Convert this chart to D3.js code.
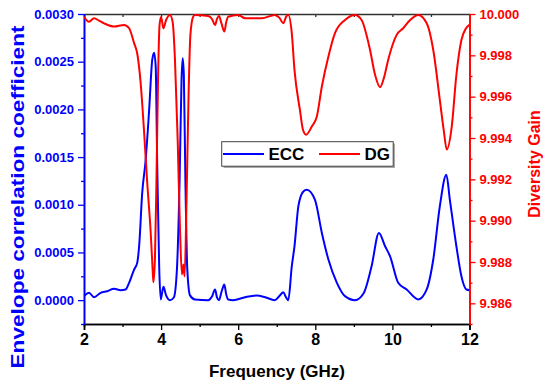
<!DOCTYPE html>
<html>
<head>
<meta charset="utf-8">
<style>
  html, body { margin: 0; padding: 0; background: #fff; }
  text { font-family: "Liberation Sans", Arial, sans-serif; font-weight: bold; }
</style>
</head>
<body>
<svg width="543" height="388"></svg>
<script src="https://cdn.jsdelivr.net/npm/d3@7/dist/d3.min.js"></script>
<script>
// ECC curve
const eccFreq = [2.00, 2.13, 2.26, 2.43, 2.60, 2.78, 2.95, 3.08, 3.17, 3.30, 3.38, 3.43, 3.51, 3.60, 3.69, 3.77, 3.82, 3.86, 3.90, 3.95,
  3.99, 4.06, 4.13, 4.23, 4.33, 4.41, 4.48, 4.53, 4.56, 4.59, 4.63, 4.68, 4.75, 4.88, 5.22, 5.32, 5.40, 5.45, 5.50, 5.57,
  5.64, 5.69, 5.74, 5.87, 6.18, 6.48, 6.70, 6.95, 7.08, 7.17, 7.23, 7.30, 7.39, 7.46, 7.56, 7.69, 7.78, 7.99, 8.17, 8.34,
  8.56, 8.77, 9.03, 9.25, 9.46, 9.65, 9.81, 9.94, 10.15, 10.37, 10.67, 10.89, 11.06, 11.23, 11.40, 11.49, 11.66, 11.79, 11.92, 12.00]
const eccVal = [0.000042, 0.000077, 0.000031, 0.000077, 0.000094, 0.000119, 0.000105, 0.000112, 0.000182, 0.000321, 0.000391, 0.000565, 0.001124, 0.001472, 0.001995, 0.002519, 0.002595, 0.002449, 0.001402, 0.000356,
  0.000007, 0.000140, 0.000050, 0.000000, 0.000028, 0.000320, 0.001260, 0.002310, 0.002536, 0.002360, 0.001260, 0.000320, 0.000050, 0.000007, 0.000000, 0.000039, 0.000112, 0.000028, 0.000000, 0.000091,
  0.000164, 0.000060, 0.000007, 0.000000, 0.000031, 0.000049, 0.000031, 0.000000, 0.000049, 0.000084, 0.000039, 0.000000, 0.000356, 0.000565, 0.000984, 0.001140, 0.001158, 0.001054, 0.000705, 0.000426,
  0.000182, 0.000042, 0.000000, 0.000070, 0.000356, 0.000705, 0.000565, 0.000460, 0.000182, 0.000112, 0.000007, 0.000112, 0.000426, 0.000984, 0.001315, 0.001054, 0.000565, 0.000251, 0.000112, 0.000105]

// Diversity gain curve
const dgFreq = [2.00, 2.13, 2.26, 2.39, 2.52, 2.78, 3.04, 3.17, 3.30, 3.38, 3.47, 3.56, 3.64, 3.73, 3.78, 3.80, 3.84, 3.88, 3.92, 3.96,
  4.00, 4.06, 4.13, 4.23, 4.30, 4.36, 4.43, 4.49, 4.54, 4.58, 4.61, 4.66, 4.71, 4.76, 4.83, 4.88, 5.22, 5.32, 5.40, 5.45,
  5.50, 5.57, 5.64, 5.69, 5.74, 6.00, 6.18, 6.61, 6.95, 7.07, 7.17, 7.24, 7.30, 7.39, 7.46, 7.60, 7.68, 7.76, 7.91, 8.04,
  8.17, 8.34, 8.51, 8.77, 9.03, 9.20, 9.42, 9.55, 9.68, 9.78, 9.89, 10.11, 10.28, 10.46, 10.67, 10.89, 11.06, 11.23, 11.33, 11.41,
  11.54, 11.66, 11.79, 11.91, 12.00]
const dgVal = [9.99987, 9.99963, 9.99979, 9.99968, 9.99955, 9.99939, 9.99947, 9.99931, 9.99859, 9.99810, 9.99665, 9.99426, 9.99184, 9.98943, 9.98764, 9.98702, 9.98813, 9.99199, 9.99681, 9.99947,
  9.99986, 9.99931, 9.99971, 9.99995, 9.99961, 9.99778, 9.99392, 9.98957, 9.98740, 9.98788, 9.98731, 9.99102, 9.99585, 9.99899, 9.99986, 9.99995, 9.99990, 9.99976, 9.99947, 9.99976,
  9.99990, 9.99952, 9.99915, 9.99961, 9.99987, 9.99995, 9.99979, 9.99979, 9.99995, 9.99981, 9.99955, 9.99986, 9.99995, 9.99907, 9.99730, 9.99537, 9.99440, 9.99416, 9.99456, 9.99504,
  9.99649, 9.99794, 9.99907, 9.99971, 9.99995, 9.99971, 9.99826, 9.99706, 9.99646, 9.99691, 9.99778, 9.99899, 9.99931, 9.99971, 9.99995, 9.99955, 9.99826, 9.99585, 9.99440, 9.99344,
  9.99456, 9.99706, 9.99874, 9.99931, 9.99947]

const xTicks = [2, 4, 6, 8, 10, 12]
const eccTicks = [0, 0.0005, 0.001, 0.0015, 0.002, 0.0025, 0.003]
const dgTicks = [9.986, 9.988, 9.990, 9.992, 9.994, 9.996, 9.998, 10.000]

const svg = d3.select('svg')
const L = 84, R = 469.5, T = 14, B = 324

const x = d3.scaleLinear().domain([2, 12]).range([L, R])
const yL = d3.scaleLinear().domain([-0.00025, 0.003]).range([B, T])
const yR = d3.scaleLinear().domain([9.985, 10.0]).range([B, T])

svg.append('clipPath').attr('id', 'clip')
  .append('rect').attr('x', L).attr('y', T - 1).attr('width', R - L).attr('height', B - T + 1)

// axes
function styleAxis (g, color, size) {
  g.selectAll('path').attr('stroke', color).attr('stroke-width', 1.6)
  g.selectAll('line').attr('stroke', color).attr('stroke-width', 1.3)
  g.selectAll('text').attr('fill', color).style('font-size', size + 'px')
}

// bottom minor + major
svg.append('g').attr('transform', `translate(0,${B})`)
  .call(d3.axisBottom(x).tickValues(d3.range(3, 12, 2)).tickSize(3).tickFormat(''))
  .call(g => styleAxis(g, '#000', 16))
svg.append('g').attr('transform', `translate(0,${B})`)
  .call(d3.axisBottom(x).tickValues(xTicks).tickSize(6).tickPadding(4).tickFormat(d3.format('d')))
  .call(g => styleAxis(g, '#000', 16))

// top
svg.append('g').attr('transform', `translate(0,${T})`)
  .call(d3.axisBottom(x).tickValues(d3.range(2, 13, 1)).tickSize(3).tickSizeOuter(0).tickFormat(''))
  .call(g => styleAxis(g, '#333', 12))

// left
svg.append('g').attr('transform', `translate(${L},0)`)
  .call(d3.axisLeft(yL).tickValues(d3.range(-0.00025, 0.003, 0.0005)).tickSize(3).tickSizeOuter(0).tickFormat(''))
  .call(g => styleAxis(g, '#0000ff', 13))
svg.append('g').attr('transform', `translate(${L},0)`)
  .call(d3.axisLeft(yL).tickValues(eccTicks).tickSize(6).tickSizeOuter(0).tickPadding(4).tickFormat(d3.format('.4f')))
  .call(g => styleAxis(g, '#0000ff', 13))

// right
svg.append('g').attr('transform', `translate(${R},0)`)
  .call(d3.axisRight(yR).tickValues(d3.range(9.985, 10.0, 0.002)).tickSize(3).tickSizeOuter(0).tickFormat(''))
  .call(g => styleAxis(g, '#ff0000', 13))
svg.append('g').attr('transform', `translate(${R},0)`)
  .call(d3.axisRight(yR).tickValues(dgTicks).tickSize(6).tickSizeOuter(0).tickPadding(4).tickFormat(d3.format('.3f')))
  .call(g => styleAxis(g, '#ff0000', 13))

// curves
const plot = svg.append('g').attr('clip-path', 'url(#clip)')

const eccLine = d3.line().curve(d3.curveMonotoneX)
  .x(i => x(eccFreq[i])).y(i => yL(eccVal[i]))
const dgLine = d3.line().curve(d3.curveMonotoneX)
  .x(i => x(dgFreq[i])).y(i => yR(dgVal[i]))

plot.append('path').attr('d', eccLine(d3.range(eccFreq.length)))
  .attr('fill', 'none').attr('stroke', '#0000ff').attr('stroke-width', 2)
plot.append('path').attr('d', dgLine(d3.range(dgFreq.length)))
  .attr('fill', 'none').attr('stroke', '#ff0000').attr('stroke-width', 2)

// titles
svg.append('text').attr('x', 277).attr('y', 377).attr('text-anchor', 'middle')
  .style('font-size', '17px').attr('fill', '#000').text('Frequency (GHz)')
svg.append('text').attr('transform', 'translate(24,197) rotate(-90)')
  .attr('text-anchor', 'middle').style('font-size', '19px').attr('fill', '#0000ff')
  .attr('textLength', 343).attr('lengthAdjust', 'spacingAndGlyphs')
  .text('Envelope correlation coefficient')
svg.append('text').attr('transform', 'translate(539.5,164) rotate(-90)')
  .attr('text-anchor', 'middle').style('font-size', '16px').attr('fill', '#ff0000')
  .text('Diversity Gain')

// legend
const lg = svg.append('g')
lg.append('rect').attr('x', 223.5).attr('y', 143.5).attr('width', 171.5).attr('height', 24.5).attr('fill', '#aaa')
lg.append('rect').attr('x', 221.7).attr('y', 141.7).attr('width', 171.5).attr('height', 24.5)
  .attr('fill', '#fff').attr('stroke', '#444').attr('stroke-width', 1)
const items = [{ name: 'ECC', color: '#0000ff', x0: 223 }, { name: 'DG', color: '#ff0000', x0: 319 }]
items.forEach(d => {
  lg.append('line').attr('x1', d.x0).attr('x2', d.x0 + 41).attr('y1', 154).attr('y2', 154)
    .attr('stroke', d.color).attr('stroke-width', 2)
  lg.append('text').attr('x', d.x0 + 45.5).attr('y', 159.5).style('font-size', '17px')
    .attr('fill', '#000').text(d.name)
})
</script>
</body>
</html>
